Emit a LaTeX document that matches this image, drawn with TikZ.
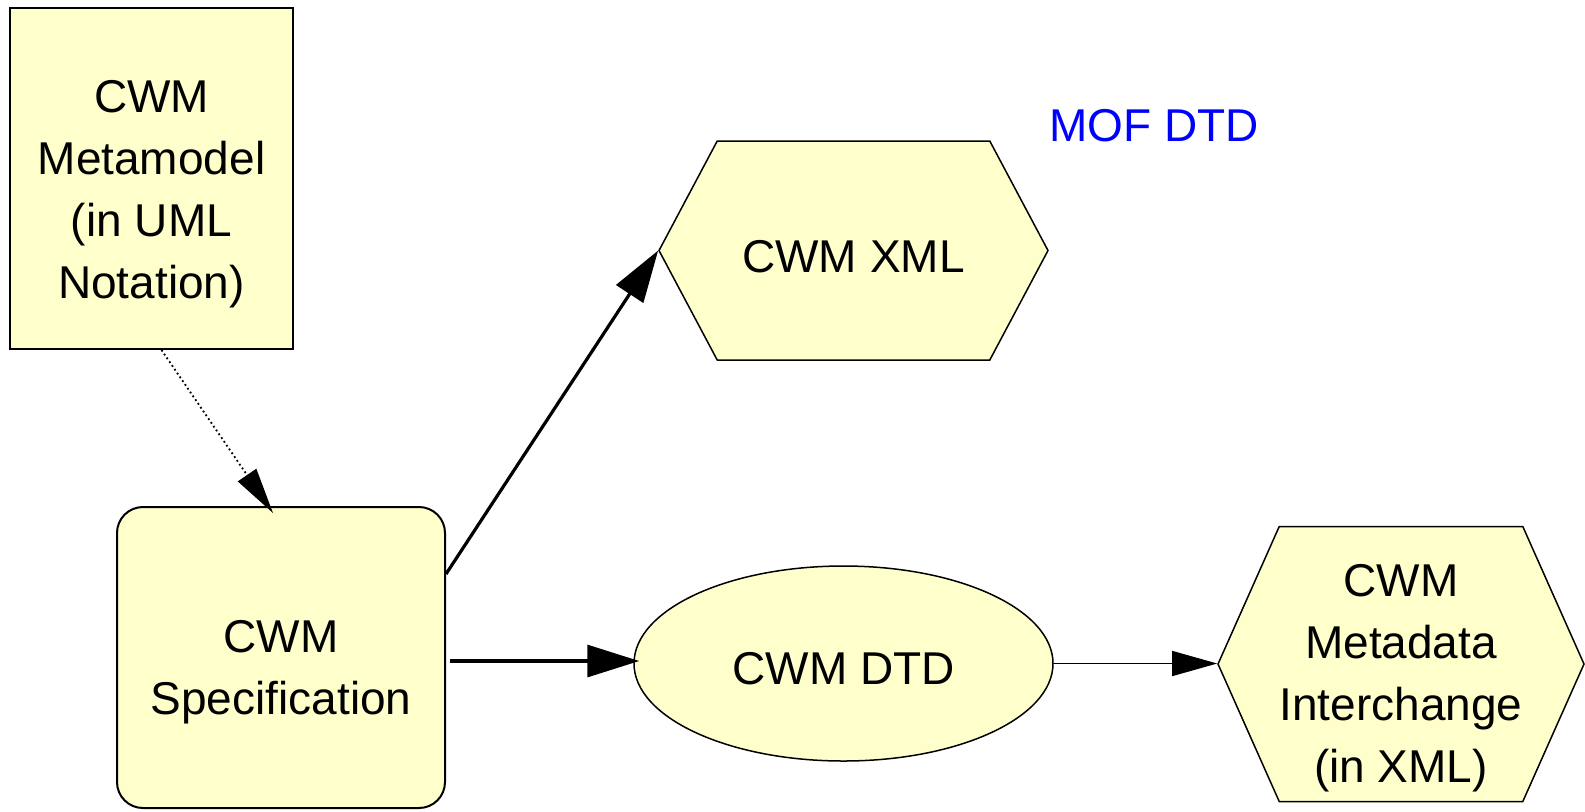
\documentclass[tikz,border=0pt]{standalone}
\usepackage{fontspec}
\setmainfont{Liberation Sans}
\usepackage{tikz}
\usetikzlibrary{positioning, shapes, arrows.meta}
\definecolor{paleyellow}{rgb}{1, 1, 0.8}
\definecolor{mofblue}{rgb}{0, 0, 1}
\newcommand{\firstdrop}[1]{\rule{0pt}{#1}}

\begin{document}
\begin{tikzpicture}[x=0.5pt, y=-0.5pt,
		every node/.style={font=\fontsize{23}{31}\selectfont, align=center},
		box/.style={draw, line width=1pt, fill=paleyellow, inner sep=0pt},
		hexa/.style={signal, signal to=east and west, draw, line width=0.75pt, fill=paleyellow, inner sep=0pt},
		bigtip/.style={-{Triangle[length=26pt, width=16pt]}, line width=1.6pt},
		smalltip/.style={-{Triangle[length=22.5pt, width=12.5pt]}, line width=0.75pt},
		dottip/.style={-{Triangle[length=23pt, width=11pt]}, line width=0.9pt, dash pattern=on 0.9pt off 1.4pt}]
		\useasboundingbox (0,0) rectangle (1585,811);
		% shapes
		\node[box, minimum width=141.5pt, minimum height=170.5pt] (meta) at (151.5,178.5) {\firstdrop{32pt}CWM\\Metamodel\\(in UML\\Notation)};
		\node[box, rounded corners=13pt, minimum width=164pt, minimum height=150.5pt] (spec) at (281,657.5) {\firstdrop{31pt}CWM\\Specification};
		\node[hexa, signal pointer angle=124, minimum width=194.5pt, minimum height=109.5pt] (xml) at (853.5,250.5) {\firstdrop{22pt}CWM XML};
		\node[ellipse, draw, line width=0.75pt, fill=paleyellow, inner sep=0pt, minimum width=209.5pt, minimum height=97.5pt] (dtd) at (843.5,663.5) {\firstdrop{21pt}CWM DTD};
		\node[hexa, signal pointer angle=132, minimum width=183pt, minimum height=137.5pt] (inter) at (1401,664) {\firstdrop{30pt}CWM\\Metadata\\Interchange\\(in XML)};
		\node[text=mofblue] (mof) at (1154,126) {MOF DTD};
		% connectors
		\draw[dottip] ([xshift=5pt]meta.south) -- ([xshift=-4pt, yshift=-3.5pt]spec.north);
		\draw[bigtip] ([yshift=41.75pt]spec.east) -- (xml.west);
		\draw[bigtip] ([xshift=2pt, yshift=-1.75pt]spec.east) -- ([xshift=3pt, yshift=1.25pt]dtd.west);
		\draw[smalltip] (dtd.east) -- (dtd.east -| inter.west);
\end{tikzpicture}
\end{document}
